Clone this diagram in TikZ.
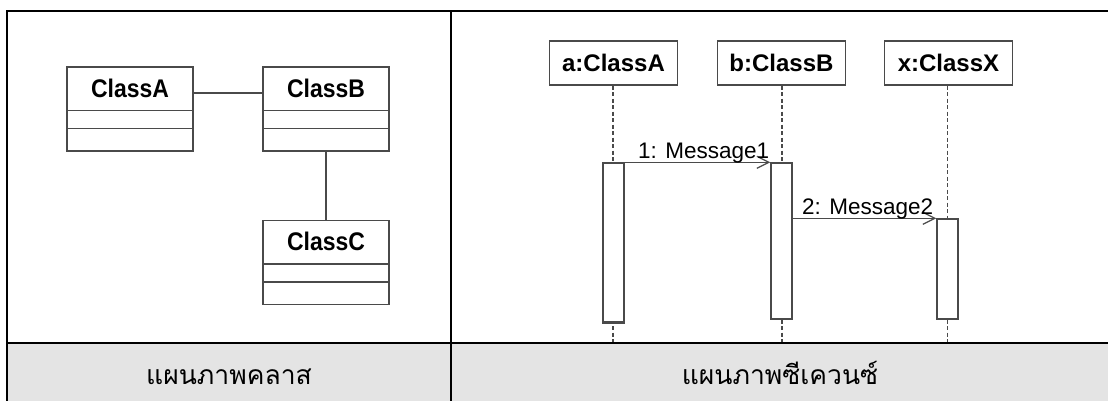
\documentclass[tikz,border=0pt]{standalone}
\usepackage{fontspec}
\setmainfont{Liberation Sans}
\newfontfamily\thaifont[Script=Thai]{Loma}
\newfontfamily\clsfont[FakeStretch=0.9]{Liberation Sans}
\usetikzlibrary{arrows.meta}
\definecolor{linegray}{HTML}{4A4A4A}
\definecolor{capgray}{HTML}{E4E4E4}
\begin{document}
\begin{tikzpicture}[x=1pt,y=-1pt,
  cls/.style={draw=linegray, line width=1.4pt, fill=white, minimum width=126pt, minimum height=84pt, inner sep=0pt},
  clsname/.style={font=\clsfont\fontsize{25.5}{28}\selectfont\bfseries, inner sep=0pt},
  obj/.style={draw=linegray, line width=1.4pt, fill=white, minimum width=128pt, minimum height=44pt, inner sep=0pt, font=\fontsize{24}{28}\selectfont\bfseries},
  act/.style={draw=linegray, line width=1.4pt, fill=white, minimum width=21pt, inner sep=0pt},
  life/.style={draw=linegray, line width=1.2pt, dash pattern=on 4pt off 2.5pt},
  msg/.style={draw=linegray, line width=1.3pt, -{Straight Barb[length=12pt,width=12pt,line width=1.3pt]}},
  msglabel/.style={font=\fontsize{22.5}{26}\selectfont, inner sep=0pt},
  assoc/.style={draw=linegray, line width=1.4pt},
  frame/.style={line width=2pt, draw=black},
  caption/.style={font=\thaifont\fontsize{26.5}{30}\selectfont, inner sep=0pt}
]
\useasboundingbox (0,0) rectangle (1108,401);
% caption band
\fill[capgray] (8,344) rectangle (1108,401);
% ---- class diagram ----
\node[cls] (A) at (130,109) {};
\node[cls] (B) at (326,109) {};
\node[cls] (C) at (326,262.5) {};
\foreach \n/\t in {A/ClassA,B/ClassB,C/ClassC}{
  \draw[assoc] ([yshift=-44pt]\n.north west) -- ([yshift=-44pt]\n.north east);
  \draw[assoc] ([yshift=-62pt]\n.north west) -- ([yshift=-62pt]\n.north east);
  \node[clsname] (\n name) at ([yshift=-22pt]\n.north) {\t};
}
\draw[assoc] ([yshift=16pt]A.east) -- ([yshift=16pt]B.west);
\draw[assoc] (B.south) -- (C.north);
% ---- sequence diagram ----
\coordinate (div) at (0,343);
\node[obj] (oa) at (613.5,63) {a:ClassA};
\node[obj] (ob) at (781.5,63) {b:ClassB};
\node[obj] (ox) at (948.5,63) {x:ClassX};
\draw[life] ([xshift=-0.5pt]oa.south) -- ([xshift=-0.5pt]oa.south |- div);
\draw[life] ([xshift=0.5pt]ob.south) -- ([xshift=0.5pt]ob.south |- div);
\draw[life] ([xshift=-1pt]ox.south) -- ([xshift=-1pt]ox.south |- div);
\node[act, minimum height=160pt] (aa) at (613.5,243) {};
\node[act, minimum height=156pt] (ab) at (781.5,241) {};
\node[act, minimum height=100pt] (ax) at (947.5,269) {};
\draw[draw=linegray, line width=3pt] ([xshift=0.6pt,yshift=1pt]aa.south west) -- ([xshift=-0.6pt,yshift=1pt]aa.south east);
\draw[msg] (aa.north east) -- (ab.north west);
\node[msglabel, anchor=base east] (m1) at ([xshift=-1pt,yshift=4pt]ab.north west) {1: Message1};
\draw[msg] (ax.north west -| ab.east) -- (ax.north west);
\node[msglabel, anchor=base east] (m2) at ([xshift=-3pt,yshift=4pt]ax.north west) {2: Message2};
% ---- frame ----
\draw[frame] (7,402) -- (7,11) -- (1108,11);
\draw[frame] (7,343) -- (1108,343);
\draw[frame] (451,11) -- (451,402);
% ---- captions ----
\node[caption, anchor=base] (cap1) at (229,384) {แผนภาพคลาส};
\node[caption, anchor=base] (cap2) at (780,384) {แผนภาพซีเควนซ์};
\end{tikzpicture}
\end{document}
